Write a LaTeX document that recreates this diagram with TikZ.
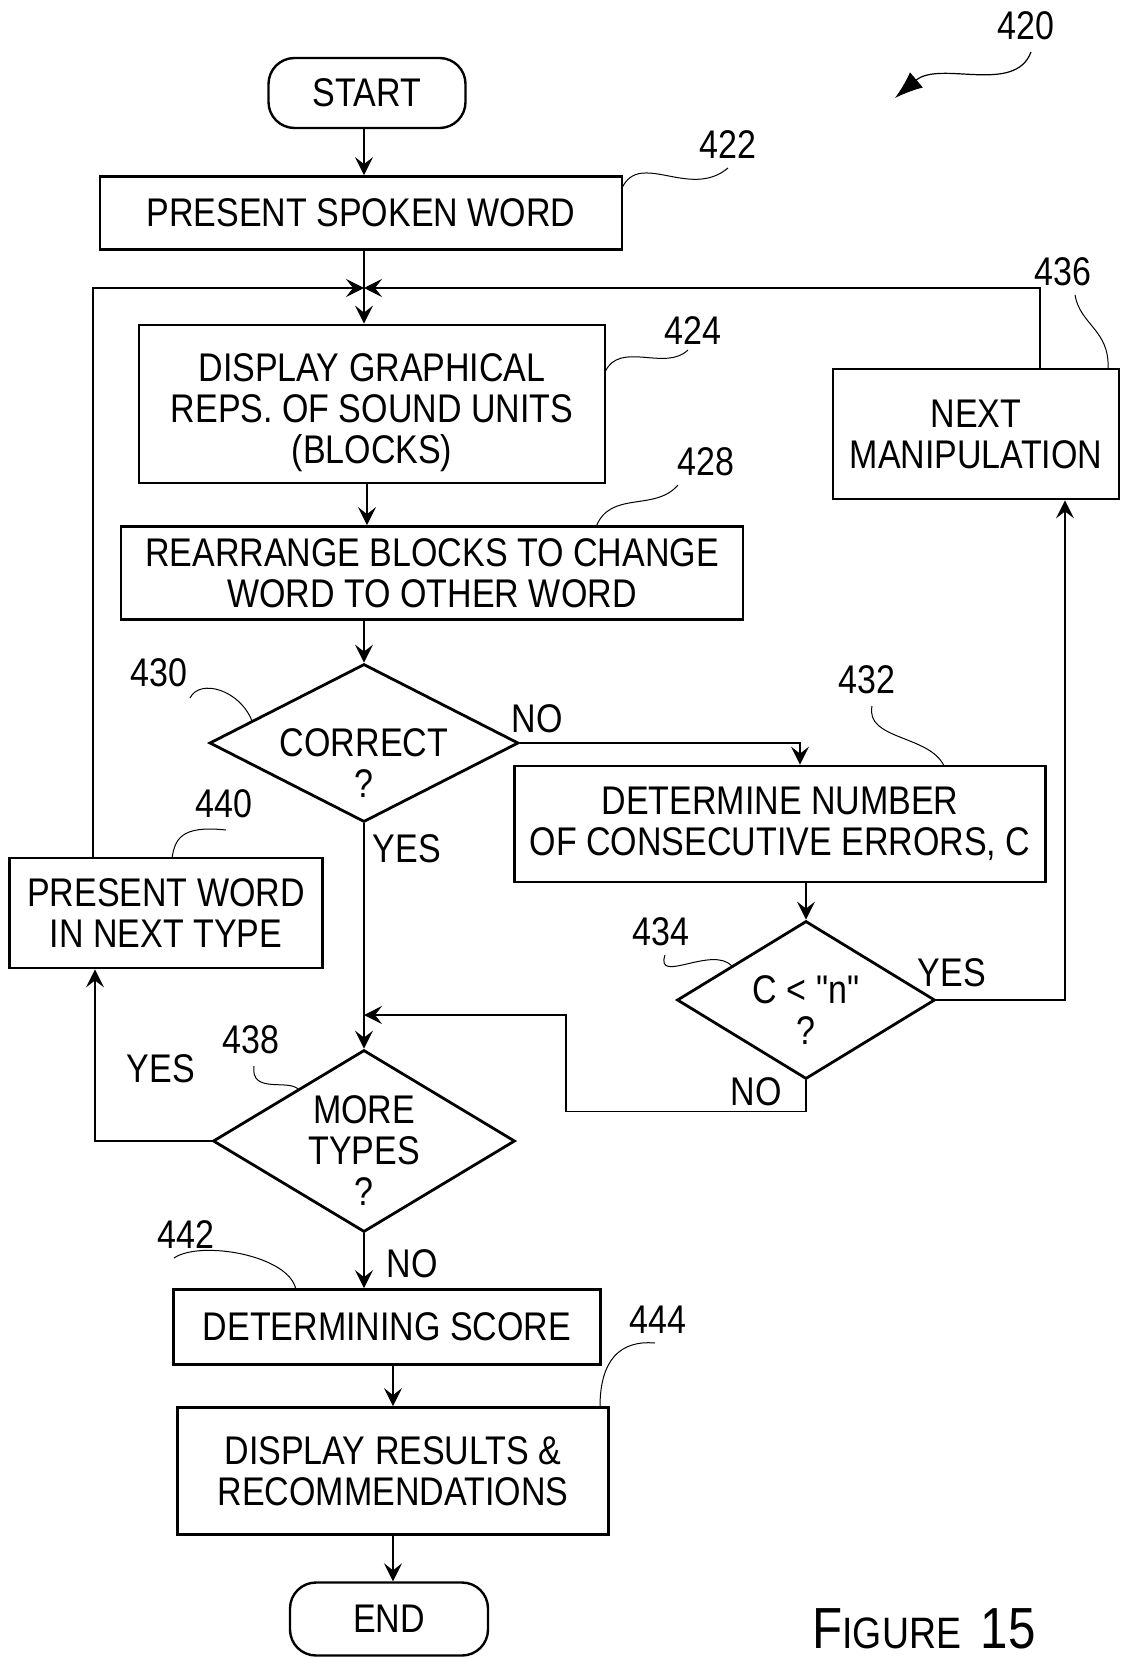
\documentclass[tikz,border=0pt]{standalone}
\usepackage{fontspec}
\setmainfont{Liberation Sans}[FakeStretch=0.85]
\newfontfamily\plainq{Liberation Sans}[FakeStretch=0.85]
\usetikzlibrary{arrows.meta,shapes.geometric,calc}
\tikzset{
  txt/.style={font=\fontsize{20}{20.5}\selectfont, align=center, inner sep=0pt},
  box/.style={draw, line width=1.4pt, txt, rectangle},
  term/.style={draw, line width=1.2pt, txt, rectangle, rounded corners=13pt},
  dia/.style={draw, line width=1.4pt, diamond, inner sep=0pt},
  arr/.style={line width=0.7pt, -{Stealth[length=9pt,width=9pt,inset=3.5pt]}},
  ln/.style={line width=0.7pt},
  lead/.style={line width=0.5pt},
  num/.style={txt},
}
\begin{document}
\begin{tikzpicture}[x=0.5pt,y=-0.5pt]
\useasboundingbox (0,0) rectangle (1121,1658);
% terminals and boxes
\node[term, minimum width=98.5pt, minimum height=35pt] (start) at (367,93) {START};
\node[box, minimum width=261pt, minimum height=36.5pt] (b422) at (361,213) {PRESENT SPOKEN WORD};
\node[box, minimum width=233pt, minimum height=79pt, label={[txt,yshift=-4.5pt]center:DISPLAY GRAPHICAL\\REPS. OF SOUND UNITS\\(BLOCKS)}] (b424) at (372,404) {};
\node[box, minimum width=311pt, minimum height=46.5pt] (b428) at (432,573) {REARRANGE BLOCKS TO CHANGE\\WORD TO OTHER WORD};
\node[dia, minimum width=154.5pt, minimum height=79pt, label={[txt,yshift=-10pt]center:CORRECT\\?}] (d430) at (364,743) {};
\node[box, minimum width=265.5pt, minimum height=58pt] (b432) at (780,824) {DETERMINE NUMBER\\OF CONSECUTIVE ERRORS, C};
\node[dia, minimum width=129pt, minimum height=79pt, label={[txt,yshift=-5pt]center:C < {\plainq "n"}\\?}] (d434) at (806,1000) {};
\node[box, minimum width=143pt, minimum height=65pt] (b436) at (976,434) {NEXT\\MANIPULATION};
\node[box, minimum width=156.5pt, minimum height=55pt] (b440) at (166,913) {PRESENT WORD\\IN NEXT TYPE};
\node[dia, minimum width=151pt, minimum height=91pt, label={[txt,yshift=-5pt]center:MORE\\TYPES\\?}] (d438) at (364,1141) {};
\node[box, minimum width=213.5pt, minimum height=37.5pt] (b442) at (387,1327) {DETERMINING SCORE};
\node[box, minimum width=215.5pt, minimum height=63.5pt] (b444) at (393,1471) {DISPLAY RESULTS \&\\RECOMMENDATIONS};
\node[term, minimum width=99pt, minimum height=36.5pt] (end) at (389,1619) {END};
% junctions
\coordinate (m) at (364,288);
\coordinate (j) at (364,1015);
% connectors
\draw[arr] (start.south -| m) -- (b422.north -| m);
\draw[arr] (b422.south -| m) -- (b424.north -| m);
\draw[arr] ($(b440.north)+(-73,0)$) |- (m);
\draw[arr] ($(b436.north)+(64,0)$) |- (m);
\draw[arr] ($(b424.south)+(-5,0)$) -- ($(b424.south |- b428.north)+(-5,0)$);
\draw[arr] (b428.south -| d430.north) -- (d430.north);
\draw[arr] (d430.east) -| ($(b432.north)+(20,0)$);
\draw[arr] ($(b432.south)+(26,0)$) -- (d434.north);
\draw[arr] (d434.east) -| ($(b436.south)+(89,0)$);
\draw[arr] (d434.south) -- ++(0,31) -| (566,1015) -- (j);
\draw[arr] (d430.south) -- (d438.north);
\draw[arr] (d438.west) -| ($(b440.south)+(-71,0)$);
\draw[arr] (d438.south) -- (d438.south |- b442.north);
\draw[arr] (b444.north |- b442.south) -- (b444.north);
\draw[arr] (b444.south) -- (b444.south |- end.north);
% branch labels
\node[txt] (l430no) at (537,719) {NO};
\node[txt] (l430yes) at (407,849) {YES};
\node[txt] (l434yes) at (952,973) {YES};
\node[txt] (l434no) at (756,1092) {NO};
\node[txt] (l438yes) at (161,1069) {YES};
\node[txt] (l438no) at (412,1264) {NO};
% reference numbers and leaders
\node[num] (n420) at (1026,26) {420};
\node[num] (n422) at (728,145) {422};
\node[num] (n424) at (693,331) {424};
\node[num] (n428) at (706,462) {428};
\node[num] (n436) at (1063,272) {436};
\node[num] (n430) at (159,673) {430};
\node[num] (n432) at (867,680) {432};
\node[num] (n440) at (224,804) {440};
\node[num] (n434) at (661,932) {434};
\node[num] (n438) at (251,1040) {438};
\node[num] (n442) at (186,1235) {442};
\node[num] (n444) at (658,1320) {444};
\draw[lead] (622,188) .. controls (640,150) and (690,200) .. (728,168);
\draw[lead] (605,372) .. controls (620,340) and (665,372) .. (688,350);
\draw[lead] (596,527) .. controls (610,490) and (655,512) .. (678,485);
\draw[lead] (1108,369) .. controls (1110,330) and (1080,325) .. (1075,295);
\draw[lead] (190,698) .. controls (200,678) and (240,690) .. (252,721);
\draw[lead] (872,706) .. controls (865,740) and (930,735) .. (944,766);
\draw[lead] (226,830) .. controls (180,825) and (175,840) .. (172,858);
\draw[lead] (665,955) .. controls (655,985) and (712,945) .. (732,966);
\draw[lead] (254,1066) .. controls (250,1095) and (290,1078) .. (299,1090);
\draw[lead] (174,1258) .. controls (200,1240) and (290,1255) .. (296,1290);
\draw[lead] (655,1343) .. controls (620,1340) and (600,1360) .. (600,1407);
\coordinate (a420s) at (1031,52);
\coordinate (a420e) at (895,98);
\draw[line width=0.6pt, -{Latex[length=14pt,width=10pt]}] (a420s) .. controls (1015,95) and (940,60) .. (a420e);
% figure caption
\node[inner sep=0pt, anchor=base west] (fig) at (812,1648) {{\fontsize{29}{29}\selectfont F}{\fontsize{22}{22}\selectfont IGURE}\hspace{10pt}{\fontsize{29}{29}\selectfont 15}};
\end{tikzpicture}
\end{document}
